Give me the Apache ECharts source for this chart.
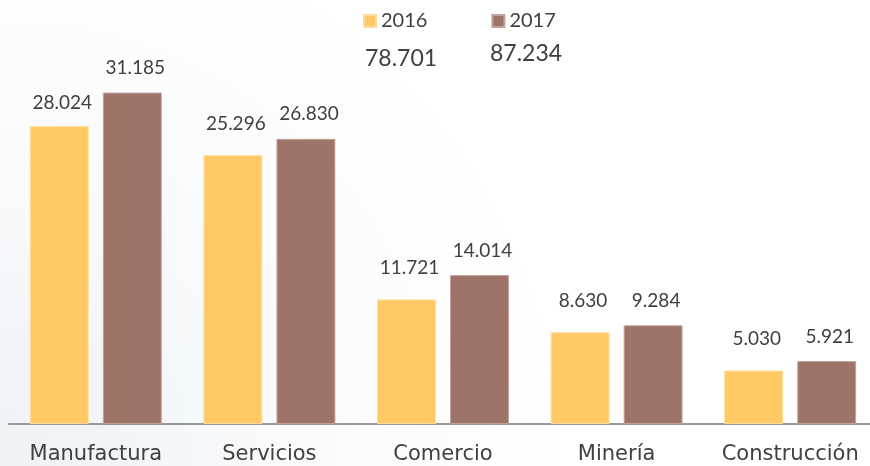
<!DOCTYPE html>
<html>
<head>
<meta charset="utf-8">
<script src="https://cdn.jsdelivr.net/npm/echarts@6/dist/echarts.min.js"></script>
<style>
  html, body { margin: 0; padding: 0; }
  #chart { width: 870px; height: 466px; }
</style>
</head>
<body>
<div id="chart"></div>
<script>
// data
const categories = ['Manufactura', 'Servicios', 'Comercio', 'Minería', 'Construcción']
const years = ['2016', '2017']
const values2016 = [28.024, 25.296, 11.721, 8.630, 5.030]
const values2017 = [31.185, 26.830, 14.014, 9.284, 5.921]
const totals = ['78.701', '87.234']

const textColor = '#404040'
const fontFamily = 'Lato, "Noto Sans", sans-serif'
const axisFont = '"DejaVu Sans", sans-serif'
const colors = ['#FFC965', '#9E7468']

const fmt = p => p.value.toFixed(3)

const chart = echarts.init(document.getElementById('chart'))

const option = {
  animation: false,
  backgroundColor: {
    type: 'radial', x: 0, y: 1, r: 1.2,
    colorStops: [
      { offset: 0, color: '#eef2f6' },
      { offset: 0.6, color: '#fafbfc' },
      { offset: 1, color: '#ffffff' }
    ]
  },
  textStyle: { fontFamily: fontFamily, color: textColor },
  legend: {
    data: years,
    left: 363,
    top: 11,
    padding: 0,
    icon: 'rect',
    itemWidth: 12,
    itemHeight: 12,
    itemGap: 64,
    textStyle: { fontSize: 20, color: textColor, fontFamily: fontFamily }
  },
  // totals per year, under the legend
  graphic: [
    { type: 'text', left: 365, top: 47, style: { text: totals[0], fontSize: 23, fill: textColor, fontFamily: fontFamily } },
    { type: 'text', left: 490, top: 42, style: { text: totals[1], fontSize: 23, fill: textColor, fontFamily: fontFamily } }
  ],
  grid: { left: 9, width: 868, top: 52, bottom: 42, outerBoundsMode: 'none', containLabel: false },
  xAxis: {
    type: 'category',
    data: categories,
    axisTick: { show: false },
    axisLine: { lineStyle: { color: '#999999', width: 2 } },
    axisLabel: { interval: 0, hideOverlap: false, fontSize: 21, color: textColor, margin: 20, fontFamily: axisFont }
  },
  yAxis: {
    type: 'value',
    min: 0,
    max: 35,
    show: false,
    splitLine: { show: false }
  },
  series: [
    {
      name: years[0],
      type: 'bar',
      barGap: '24%',
      barCategoryGap: '24%',
      itemStyle: { color: colors[0], borderColor: '#FFDC9A', borderWidth: 1 },
      label: { show: true, position: 'top', distance: 22, offset: [3, 0], fontSize: 19, color: textColor, formatter: fmt },
      // first label sits closer to its bar in the original
      data: values2016.map((v, i) => i === 0 ? { value: v, label: { distance: 14 } } : v)
    },
    {
      name: years[1],
      type: 'bar',
      itemStyle: { color: colors[1], borderColor: '#C0A39B', borderWidth: 1 },
      label: { show: true, position: 'top', distance: 15, offset: [3, 0], fontSize: 19, color: textColor, formatter: fmt },
      data: values2017
    }
  ]
}

chart.setOption(option)
</script>
</body>
</html>
